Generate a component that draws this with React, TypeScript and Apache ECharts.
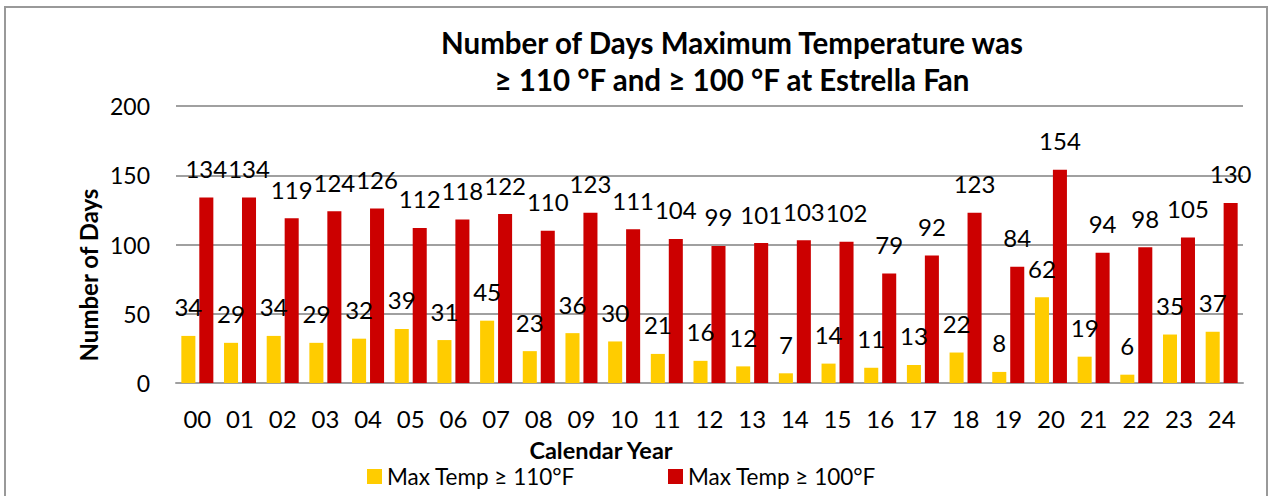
import React, { useEffect, useRef } from "react";
import * as echarts from "echarts";

const years = ["00","01","02","03","04","05","06","07","08","09","10","11","12","13","14","15","16","17","18","19","20","21","22","23","24"];
const days110 = [34,29,34,29,32,39,31,45,23,36,30,21,16,12,7,14,11,13,22,8,62,19,6,35,37];
const days100 = [134,134,119,124,126,112,118,122,110,123,111,104,99,101,103,102,79,92,123,84,154,94,98,105,130];
const yTicks = [0, 50, 100, 150, 200];
const seriesNames = ["Max Temp ≥ 110°F", "Max Temp ≥ 100°F"];

const FONT = "Lato, 'Open Sans', sans-serif";

export default function App() {
  const ref = useRef<HTMLDivElement>(null);
  useEffect(() => {
    if (!ref.current) return;
    const chart = echarts.init(ref.current, null, { renderer: "svg" });
    const label = {
      show: true,
      position: "top" as const,
      distance: 17,
      color: "#000",
      fontSize: 24,
      fontFamily: FONT,
    };
    chart.setOption({
      animation: false,
      backgroundColor: "#fff",
      textStyle: { fontFamily: FONT },
      title: {
        text: "Number of Days Maximum Temperature was\n≥ 110 °F and ≥ 100 °F at Estrella Fan",
        left: 727,
        top: 19,
        textAlign: "center",
        textStyle: { fontSize: 29.5, fontWeight: "bold", color: "#000", lineHeight: 37, fontFamily: FONT },
      },
      legend: {
        data: seriesNames,
        left: 367,
        top: 465,
        padding: 0,
        itemWidth: 15,
        itemHeight: 15,
        itemGap: 93,
        icon: "rect",
        textStyle: { fontSize: 22.5, color: "#000", fontFamily: FONT },
      },
      grid: { left: 176, right: 27, top: 106, bottom: 113, containLabel: false },
      xAxis: {
        type: "category",
        data: years,
        axisLine: { show: true, lineStyle: { color: "#a0a0a0", width: 2 } },
        axisTick: { show: false },
        axisLabel: { color: "#000", fontSize: 24, margin: 23, fontFamily: FONT },
      },
      yAxis: {
        type: "value",
        min: yTicks[0],
        max: yTicks[yTicks.length - 1],
        interval: 50,
        axisLine: { show: false },
        axisTick: { show: false },
        axisLabel: { color: "#000", fontSize: 23, margin: 26, fontFamily: FONT },
        splitLine: { lineStyle: { color: "#a0a0a0", width: 2 } },
      },
      series: [
        {
          name: seriesNames[0],
          type: "bar",
          data: days110,
          barGap: "28%",
          barCategoryGap: "25%",
          itemStyle: { color: "#FFCC00" },
          label,
        },
        {
          name: seriesNames[1],
          type: "bar",
          data: days100,
          barGap: "28%",
          barCategoryGap: "25%",
          itemStyle: { color: "#CC0000" },
          label,
        },
      ],
      graphic: [
        {
          type: "rect",
          shape: { x: 5, y: 7, width: 1262, height: 500 },
          style: { fill: "none", stroke: "#999", lineWidth: 2 },
          silent: true,
        },
        {
          type: "text",
          x: 88,
          y: 275,
          rotation: Math.PI / 2,
          style: {
            text: "Number of Days",
            fontSize: 24,
            fontWeight: "bold",
            fill: "#000",
            fontFamily: FONT,
            align: "center",
            verticalAlign: "middle",
          },
        },
        {
          type: "text",
          x: 601,
          y: 450,
          style: {
            text: "Calendar Year",
            fontSize: 23.5,
            fontWeight: "bold",
            fill: "#000",
            fontFamily: FONT,
            align: "center",
            verticalAlign: "middle",
          },
        },
      ],
    });
    return () => chart.dispose();
  }, []);
  return (
    <div
      ref={ref}
      style={{ position: "fixed", left: 0, top: 0, width: 1270, height: 496 }}
    />
  );
}
